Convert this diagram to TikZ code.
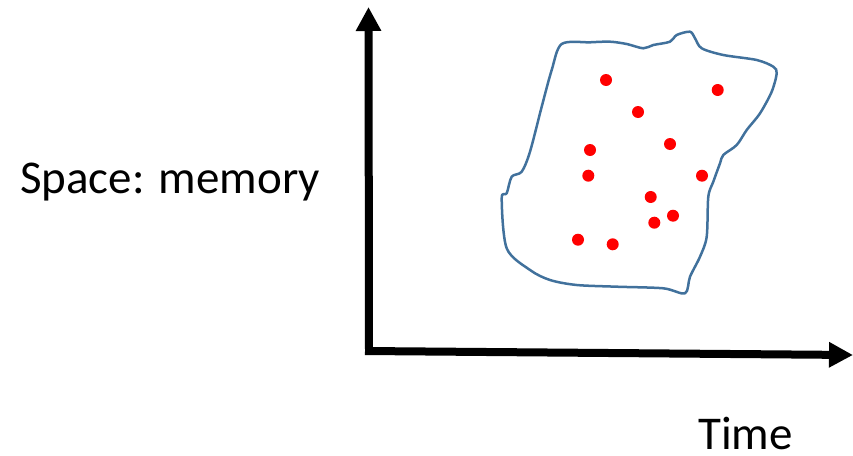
\documentclass[tikz,border=0pt]{standalone}
\usepackage{fontspec}
\setmainfont{Carlito}
\usetikzlibrary{arrows.meta}
\definecolor{blobline}{RGB}{65,113,156}
\definecolor{dotred}{RGB}{255,0,0}
\tikzset{
  axis/.style={line width=8pt, -{Triangle[length=24pt,width=24pt]}},
  label/.style={inner sep=0pt, anchor=base west, font=\fontsize{47}{52}\selectfont},
  blob/.style={draw=blobline, line width=2.5pt, line join=round},
  pt/.style={fill=dotred},
}
\begin{document}
\begin{tikzpicture}[x=1pt,y=-1pt]
\useasboundingbox (0,0) rectangle (853,455);
% origin and axis ends
\coordinate (o) at (369,351);
\coordinate (ytip) at (368.5,7);
\coordinate (xtip) at (853,355);
\draw[axis] ([yshift=-2pt]o) -- (ytip);
\draw[axis] ([xshift=-4pt]o) -- (xtip);
% axis labels
\node[label] (ylab) at (20,193) {Space: memory};
\node[label] (xlab) at (698,449) {Time};
% region of scattered points
\draw[blob] plot[smooth cycle, tension=0.5] coordinates {
  (561.7,44) (590,42.3) (610,41.7) (626.7,44) (643.3,48.3) (653.3,45)
  (670,41.7) (676.7,35) (690,31.7) (695,38.3) (701.7,48.3) (723.3,55)
  (756.7,60) (773.3,66.7) (776.7,73.3) (771.7,91.7) (760,113.3)
  (746.7,130) (736.7,145) (723.3,155) (720,163.3) (713.3,181.7)
  (708.3,196.7) (706.7,236.7) (700,256.7) (690,276.7) (685,293.3)
  (663.3,288.3) (616.7,286.7) (576.7,285) (550,280) (530,270)
  (506.7,248.3) (501.7,198.3) (506.7,193.3) (511.7,176.7) (521.7,171.7)
  (530,151.7) (541.7,106.7) (551.7,70)};
% points
\foreach \px/\py in {606/80, 717.7/90, 638/112, 670/144, 590/150,
  588.3/175.7, 702/175.7, 650.7/197, 673/215.7, 654.3/222.7,
  578/239.7, 612.7/244.3}
  \fill[pt] (\px,\py) circle (6pt);
\end{tikzpicture}
\end{document}
